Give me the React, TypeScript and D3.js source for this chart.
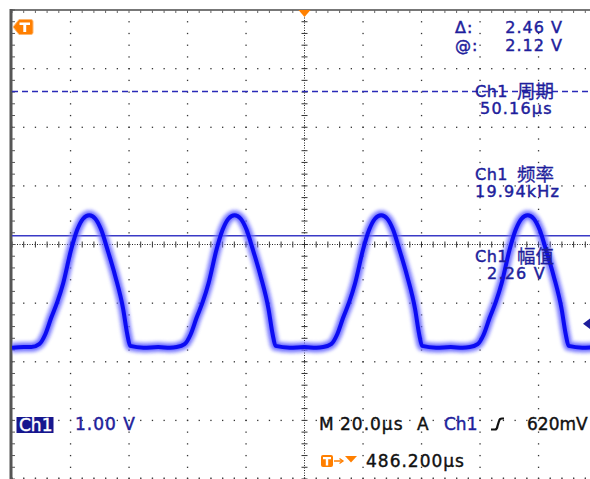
import React from "react";
import * as d3 from "d3";

const W = 590;
const H = 479;

// Ch1 trace: time in µs (0 = screen centre), volts above ground
const traceUs = [
  -100, -96, -93.4, -90.7, -88.6, -86.6, -84.5, -82.5, -79.8, -77.7, -75.7, -73.6, -71.5, -69.5, -67.4,
  -64.7, -62.0, -60.6, -59.6, -55, -50, -46, -43.7, -41.0, -38.9, -36.9, -34.8, -32.8, -30.1, -28.0,
  -26.0, -23.9, -21.8, -19.8, -17.7, -15.0, -12.3, -10.9, -9.9, -5, 0, 4, 6.4, 9.1, 11.2, 13.2, 15.3,
  17.3, 20.0, 22.1, 24.1, 26.2, 28.3, 30.3, 32.4, 35.1, 37.8, 39.2, 40.2, 45, 50, 54, 56.5, 59.2, 61.3,
  63.3, 65.4, 67.4, 70.1, 72.2, 74.2, 76.3, 78.4, 80.4, 82.5, 85.2, 87.9, 89.3, 90.3, 95, 100,
];
const traceV = [
  0.21, 0.22, 0.22, 0.27, 0.44, 0.72, 0.99, 1.31, 1.88, 2.22, 2.41, 2.47, 2.41, 2.22, 1.89,
  1.43, 0.87, 0.44, 0.24, 0.21, 0.22, 0.21, 0.22, 0.27, 0.44, 0.72, 0.99, 1.31, 1.88, 2.22,
  2.41, 2.47, 2.41, 2.22, 1.89, 1.43, 0.87, 0.44, 0.24, 0.21, 0.22, 0.21, 0.22, 0.27, 0.44, 0.72, 0.99,
  1.31, 1.88, 2.22, 2.41, 2.47, 2.41, 2.22, 1.89, 1.43, 0.87, 0.44, 0.24, 0.21, 0.22, 0.21, 0.22, 0.27, 0.44,
  0.72, 0.99, 1.31, 1.88, 2.22, 2.41, 2.47, 2.41, 2.22, 1.89, 1.43, 0.87, 0.44, 0.24, 0.21, 0.22,
];

// cursors and trigger
const cursorAtV = 2.12;
const cursorDeltaV = 2.46;
const trigLevelV = 0.62;

// readouts
const measureNames = ["周期", "频率", "幅值"];
const measureValues = ["50.16µs", "19.94kHz", "2.26 V"];
const cursorLabels = ["Δ:", "@:"];
const cursorValues = ["2.46 V", "2.12 V"];

const FONT = "'DejaVu Sans', 'Noto Sans CJK SC', sans-serif";
const NAVY = "#1e1e9c";

const App: React.FC = () => {
  // graticule: 10 x 8 divisions
  const gx = d3.scaleLinear().domain([0, 10]).range([12, 597]);
  const gy = d3.scaleLinear().domain([0, 8]).range([10, 479]);
  // 20 µs/div, 1 V/div
  const xT = d3.scaleLinear().domain([-100, 100]).range([gx(0), gx(10)]);
  const yV = d3.scaleLinear().domain([-2.03, 5.97]).range([gy(8), gy(0)]);

  const pts = traceUs.map((t, i) => [t, traceV[i]] as [number, number]);
  const line = d3
    .line<[number, number]>()
    .x((d) => xT(d[0]))
    .y((d) => yV(d[1]))
    .curve(d3.curveMonotoneX);
  const tracePath = line(pts) || "";

  const minorX = d3.range(0, 51).map((j) => gx(j / 5));
  const minorY = d3.range(0, 41).map((j) => gy(j / 5));

  const dots: JSX.Element[] = [];
  // dotted grid lines (not the centre cross)
  [1, 2, 3, 4, 6, 7, 8, 9].forEach((i) => {
    minorY.forEach((y, j) =>
      dots.push(<rect key={`v${i}-${j}`} x={gx(i) - 0.6} y={y - 0.6} width={1.3} height={1.3} fill="#333" />)
    );
  });
  [1, 2, 3, 5, 6, 7, 8].forEach((i) => {
    minorX.forEach((x, j) =>
      dots.push(<rect key={`h${i}-${j}`} x={x - 0.6} y={gy(i) - 0.6} width={1.3} height={1.3} fill="#333" />)
    );
  });

  const cx = gx(5);
  const cy = gy(4);
  const trigY = yV(trigLevelV);
  const cursorY1 = yV(cursorAtV);
  const cursorY2 = yV(cursorAtV + cursorDeltaV);

  const measureY = [97, 180, 262];
  const textStroke = { stroke: NAVY, strokeWidth: 0.45 };

  return (
    <svg
      width={W}
      height={H}
      style={{ position: "absolute", left: 0, top: 0, background: "#fff" }}
    >
      <defs>
        <clipPath id="scr">
          <rect x={gx(0)} y={gy(0)} width={W - gx(0)} height={gy(8) - gy(0)} />
        </clipPath>
        <filter id="fuzz" x="-5%" y="-20%" width="110%" height="140%">
          <feGaussianBlur stdDeviation={1.6} />
        </filter>
      </defs>
      <rect width={W} height={H} fill="#fff" />

      {/* graticule */}
      <g>{dots}</g>
      <line x1={cx} x2={cx} y1={gy(0)} y2={gy(8)} stroke="#222" strokeDasharray="1 1.5" />
      <line x1={gx(0)} x2={W} y1={cy} y2={cy} stroke="#222" strokeDasharray="1 1.5" />
      {minorY.map((y, j) => (
        <line key={`ct${j}`} x1={cx - 3} x2={cx + 3} y1={y} y2={y} stroke="#333" />
      ))}
      {minorX.map((x, j) => (
        <line key={`ch${j}`} x1={x} x2={x} y1={cy - 3} y2={cy + 3} stroke="#333" />
      ))}
      {/* bottom edge dots */}
      {minorX.map((x, j) => (
        <rect key={`b${j}`} x={x - 0.6} y={gy(8) - 1.5} width={1.3} height={1.3} fill="#333" />
      ))}
      {/* top and left frame with ticks */}
      <line x1={gx(0)} x2={W} y1={gy(0)} y2={gy(0)} stroke="#777" strokeWidth={2} />
      {minorX.map((x, j) => (
        <line key={`tt${j}`} x1={x} x2={x} y1={gy(0)} y2={gy(0) + 3} stroke="#666" />
      ))}
      <line x1={gx(0) - 1} x2={gx(0) - 1} y1={gy(0) - 1} y2={H} stroke="#555" strokeWidth={3} />
      {minorY.map((y, j) => (
        <line key={`lt${j}`} x1={gx(0)} x2={gx(0) + 3} y1={y} y2={y} stroke="#555" />
      ))}

      {/* cursors */}
      <line x1={gx(0)} x2={W} y1={cursorY2} y2={cursorY2} stroke="#2a2ab8" strokeWidth={1.3} strokeDasharray="6 4" />
      <line x1={gx(0)} x2={W} y1={cursorY1} y2={cursorY1} stroke="#3a3ac6" strokeWidth={1.6} />

      {/* trace */}
      <g clipPath="url(#scr)" fill="none" strokeLinejoin="round">
        <path d={tracePath} stroke="#8a8aff" strokeWidth={12} opacity={0.55} filter="url(#fuzz)" />
        <path d={tracePath} stroke="#3a3aff" strokeWidth={7} opacity={0.6} filter="url(#fuzz)" />
        <path d={tracePath} stroke="#0c0cf2" strokeWidth={4} />
      </g>

      {/* trigger markers */}
      <path d={`M${cx - 6},${gy(0)} L${cx + 6},${gy(0)} L${cx},${gy(0) + 7} Z`} fill="#ff8000" />
      <path d={`M583,${trigY} L591,${trigY - 6} L591,${trigY + 6} Z`} fill={NAVY} />
      <g>
        <path
          d="M13,27 L19,19.5 L31,19.5 Q33,19.5 33,21.5 L33,32.5 Q33,34.5 31,34.5 L19,34.5 Z"
          fill="#ff7f00"
          stroke="#ffb870"
          strokeWidth={1}
        />
        <path d="M19.5,22.5 H30 V25 H26.2 V32 H23.3 V25 H19.5 Z" fill="#fff" />
      </g>

      {/* cursor readouts */}
      {cursorLabels.map((s, i) => (
        <g key={s} fontFamily={FONT} fontSize={16} fill={NAVY} letterSpacing={1} {...textStroke}>
          <text x={455} y={33 + i * 18}>{s}</text>
          <text x={563} y={33 + i * 18} textAnchor="end">{cursorValues[i]}</text>
        </g>
      ))}

      {/* measurements */}
      {measureNames.map((s, i) => (
        <g key={s} fontFamily={FONT} fill={NAVY} {...textStroke}>
          <text x={475} y={measureY[i]} fontSize={16} letterSpacing={0.5}>Ch1</text>
          <text x={517} y={measureY[i] + 1} fontSize={18.5} strokeWidth={0.3}>{s}</text>
          <text x={i === 2 ? 487 : i === 1 ? 475 : 480} y={measureY[i] + 17} fontSize={16} letterSpacing={1.2}>
            {measureValues[i]}
          </text>
        </g>
      ))}

      {/* bottom status */}
      <rect x={16.5} y={417} width={37} height={16} fill="#16168e" />
      <text x={19} y={431} fontFamily={FONT} fontSize={17} fill="#fff" stroke="#fff" strokeWidth={0.4}>Ch1</text>
      <text x={75} y={430} fontFamily={FONT} fontSize={17} fill={NAVY} letterSpacing={1} {...textStroke}>1.00 V</text>

      <g fontFamily={FONT} fontSize={17} fill="#111" stroke="#111" strokeWidth={0.4}>
        <text x={319} y={430}>M</text>
        <text x={340} y={430} letterSpacing={1}>20.0µs</text>
        <text x={417} y={430}>A</text>
        <text x={444} y={430} fill={NAVY} stroke={NAVY}>Ch1</text>
        <text x={527} y={430}>620mV</text>
        <text x={366} y={467} letterSpacing={1}>486.200µs</text>
      </g>
      <path d="M491,429.5 H495 Q497,429.5 497.5,426 L499,421 Q499.5,418.5 502,418.5 H504" fill="none" stroke="#111" strokeWidth={2.2} />

      <rect x={321} y={455} width={12} height={12} rx={2} fill="#ff7f00" />
      <path d="M323,457 H331 V459.2 H328.2 V465.5 H325.8 V459.2 H323 Z" fill="#fff" />
      <line x1={334} x2={342} y1={461} y2={461} stroke="#ff7f00" strokeWidth={1.5} />
      <path d="M339.5,458.5 L343,461 L339.5,463.5" fill="none" stroke="#ff7f00" strokeWidth={1.3} />
      <path d="M345,456 L357,456 L351,462.5 Z" fill="#ff7f00" />
    </svg>
  );
};

export default App;
